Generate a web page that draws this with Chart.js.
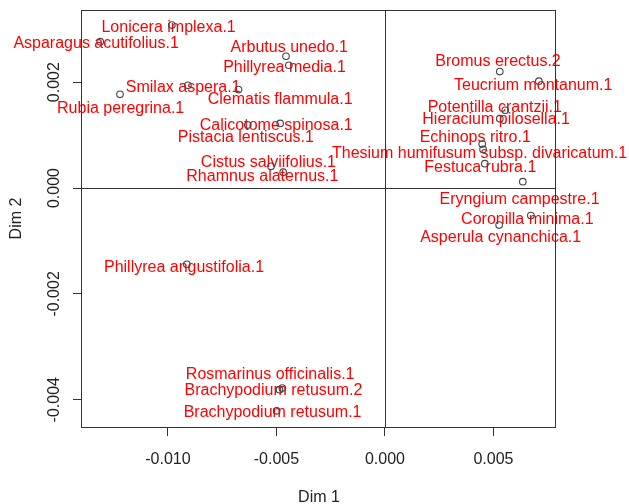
<!DOCTYPE html>
<html lang="en">
<head>
  <meta charset="UTF-8" />
  <title>CA factor map</title>
  <style>
    body {
      margin: 0;
      background: #ffffff;
    }
    #wrap {
      width: 629px;
      height: 504px;
    }
  </style>
</head>
<body>
  <div id="wrap">
    <canvas id="caChart" width="629" height="504"></canvas>
  </div>

  <script src="https://cdn.jsdelivr.net/npm/chart.js"></script>
  <script>
    // species (row) labels and their coordinates on Dim 1 / Dim 2
    const species = [
      'Lonicera implexa.1', 'Asparagus acutifolius.1', 'Arbutus unedo.1', 'Phillyrea media.1',
      'Smilax aspera.1', 'Rubia peregrina.1', 'Clematis flammula.1', 'Calicotome spinosa.1',
      'Pistacia lentiscus.1', 'Cistus salviifolius.1', 'Rhamnus alaternus.1', 'Phillyrea angustifolia.1',
      'Rosmarinus officinalis.1', 'Brachypodium retusum.2', 'Brachypodium retusum.1',
      'Bromus erectus.2', 'Teucrium montanum.1', 'Potentilla crantzii.1', 'Hieracium pilosella.1',
      'Echinops ritro.1', 'Thesium humifusum subsp. divaricatum.1', 'Festuca rubra.1',
      'Eryngium campestre.1', 'Coronilla minima.1', 'Asperula cynanchica.1'
    ];
    const dim1 = [
      -0.00982, -0.01312, -0.00456, -0.00443,
      -0.00908, -0.01221, -0.00675, -0.00483,
      -0.00632, -0.00525, -0.00469, -0.00913,
      -0.00486, -0.00473, -0.00499,
      0.00529, 0.00709, 0.00554, 0.00529,
      0.00448, 0.00452, 0.00460,
      0.00635, 0.00672, 0.00526
    ];
    const dim2 = [
      0.00308, 0.002765, 0.00249, 0.00232,
      0.00194, 0.00177, 0.00186, 0.00122,
      0.00119, 0.00041, 0.00030, -0.00144,
      -0.00381, -0.00378, -0.00421,
      0.00220, 0.00202, 0.00147, 0.00131,
      0.00083, 0.00073, 0.00046,
      0.00012, -0.00052, -0.00070
    ];
    // where each label sits (anti-overlap placement), in the same units
    const labelDim1 = [
      -0.00997, -0.01331, -0.00441, -0.00463,
      -0.00930, -0.01218, -0.00483, -0.00501,
      -0.00641, -0.00537, -0.00565, -0.00926,
      -0.00529, -0.00514, -0.00518,
      0.00521, 0.00683, 0.00506, 0.00512,
      0.00416, 0.00436, 0.00439,
      0.00620, 0.00656, 0.00533
    ];
    const labelDim2 = [
      0.00303, 0.00273, 0.00266, 0.00228,
      0.00189, 0.00150, 0.00167, 0.00118,
      0.00096, 0.00049, 0.00022, -0.00150,
      -0.00352, -0.00383, -0.00425,
      0.00239, 0.00194, 0.00152, 0.00129,
      0.00095, 0.00066, 0.00039,
      -0.00022, -0.00060, -0.00093
    ];
    const xTicks = [-0.010, -0.005, 0.000, 0.005];
    const yTicks = [-0.004, -0.002, 0.000, 0.002];
    const xRange = [-0.01396, 0.00788];
    const yRange = [-0.004515, 0.003364];

    const FONT = "'Liberation Sans', Arial, sans-serif";

    // R-style frame: box, zero lines, rotated y tick labels, red point labels
    const rFrame = {
      id: 'rFrame',
      beforeDatasetsDraw(chart) {
        const ctx = chart.ctx;
        const xs = chart.scales.x, ys = chart.scales.y;
        ctx.save();
        ctx.fillStyle = '#ff0000';
        ctx.font = '16px ' + FONT;
        ctx.textAlign = 'center';
        ctx.textBaseline = 'middle';
        species.forEach((name, i) => {
          ctx.fillText(name, xs.getPixelForValue(labelDim1[i]), ys.getPixelForValue(labelDim2[i]));
        });
        ctx.restore();
      },
      afterDraw(chart) {
        const ctx = chart.ctx;
        const a = chart.chartArea;
        const xs = chart.scales.x, ys = chart.scales.y;
        ctx.save();
        ctx.strokeStyle = '#333';
        ctx.lineWidth = 1;
        ctx.strokeRect(Math.round(a.left) - 0.5, Math.round(a.top) + 0.5,
          Math.round(a.right - a.left), Math.round(a.bottom - a.top));

        // axes through the origin
        const x0 = Math.round(xs.getPixelForValue(0)) + 0.5;
        const y0 = Math.round(ys.getPixelForValue(0)) + 0.5;
        ctx.beginPath();
        ctx.moveTo(x0, a.top);
        ctx.lineTo(x0, a.bottom);
        ctx.moveTo(a.left, y0);
        ctx.lineTo(a.right, y0);
        ctx.stroke();

        // y tick labels, rotated like R's las = 0
        ctx.fillStyle = '#222';
        ctx.font = '16px ' + FONT;
        ctx.textAlign = 'center';
        ctx.textBaseline = 'alphabetic';
        yTicks.forEach(v => {
          ctx.save();
          ctx.translate(a.left - 23, ys.getPixelForValue(v));
          ctx.rotate(-Math.PI / 2);
          ctx.fillText(v.toFixed(3), 0, 0);
          ctx.restore();
        });
        ctx.restore();
      }
    };

    const ctx = document.getElementById('caChart').getContext('2d');
    new Chart(ctx, {
      type: 'scatter',
      data: {
        datasets: [{
          data: dim1.map((v, i) => ({ x: v, y: dim2[i] })),
          pointRadius: 3.3,
          pointHoverRadius: 3.3,
          pointStyle: 'circle',
          borderColor: '#444',
          backgroundColor: 'rgba(0,0,0,0)',
          borderWidth: 1.1
        }]
      },
      options: {
        responsive: false,
        animation: false,
        devicePixelRatio: 1,
        layout: { padding: { top: 10, right: 73, left: 0, bottom: 0 } },
        plugins: {
          legend: { display: false },
          tooltip: { enabled: false }
        },
        scales: {
          x: {
            type: 'linear',
            position: 'bottom',
            min: xRange[0],
            max: xRange[1],
            afterBuildTicks: s => { s.ticks = xTicks.map(v => ({ value: v })); },
            afterFit: s => { s.height = 77; },
            grid: { drawOnChartArea: false, drawTicks: true, tickLength: 9, color: '#333' },
            border: { display: false },
            ticks: {
              autoSkip: false,
              maxRotation: 0,
              padding: 14,
              color: '#222',
              font: { family: FONT, size: 16 },
              callback: v => v.toFixed(3)
            },
            title: {
              display: true,
              text: 'Dim 1',
              color: '#222',
              font: { family: FONT, size: 16, lineHeight: 0.75 },
              padding: { top: 0, bottom: 0 }
            }
          },
          y: {
            type: 'linear',
            position: 'left',
            min: yRange[0],
            max: yRange[1],
            afterBuildTicks: s => { s.ticks = yTicks.map(v => ({ value: v })); },
            afterFit: s => { s.width = 82; },
            grid: { drawOnChartArea: false, drawTicks: true, tickLength: 9, color: '#333' },
            border: { display: false },
            ticks: { display: false },
            title: {
              display: true,
              text: 'Dim 2',
              color: '#222',
              font: { family: FONT, size: 16, lineHeight: 1 },
              padding: { top: 9, bottom: 0 }
            }
          }
        }
      },
      plugins: [rFrame]
    });
  </script>
</body>
</html>
